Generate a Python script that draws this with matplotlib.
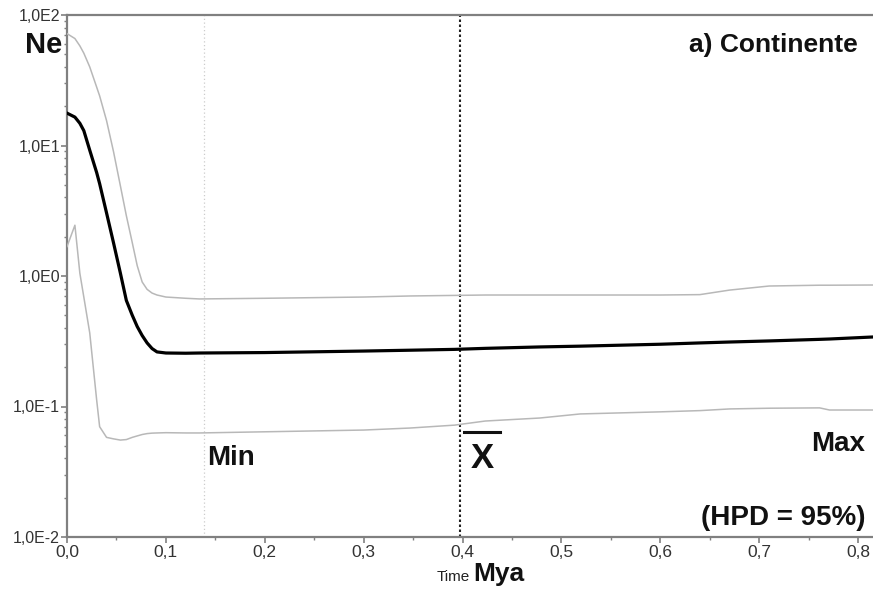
import numpy as np
import matplotlib
matplotlib.use("Agg")
import matplotlib.pyplot as plt
from matplotlib import font_manager
from matplotlib.lines import Line2D
from matplotlib.ticker import FixedLocator, FuncFormatter, LogLocator, NullFormatter

# ---- data ----
time_mya = [0.0, 0.008, 0.013, 0.017, 0.023, 0.03, 0.033, 0.04, 0.047, 0.054,
            0.06, 0.066, 0.071, 0.076, 0.081, 0.086, 0.091, 0.1, 0.12, 0.134,
            0.2, 0.3, 0.347, 0.392, 0.423, 0.478, 0.519, 0.6, 0.64, 0.67,
            0.71, 0.761, 0.771, 0.815]
ne_median = [17.7, 16.5, 14.8, 13.0, 9.2, 6.2, 5.1, 3.04, 1.8, 1.05,
             0.65, 0.5, 0.41, 0.35, 0.307, 0.278, 0.262, 0.257, 0.256, 0.257,
             0.259, 0.266, 0.27, 0.274, 0.279, 0.286, 0.29, 0.3, 0.307, 0.312,
             0.318, 0.327, 0.329, 0.341]
ne_upper = [72.0, 66.0, 58.0, 51.0, 40.0, 28.0, 24.0, 15.5, 9.0, 4.9,
            2.9, 1.8, 1.2, 0.9, 0.79, 0.74, 0.715, 0.69, 0.675, 0.667,
            0.675, 0.69, 0.703, 0.71, 0.715, 0.715, 0.715, 0.715, 0.72, 0.78,
            0.838, 0.85, 0.85, 0.853]
ne_lower = [1.68, 2.45, 1.05, 0.69, 0.366, 0.112, 0.07, 0.058, 0.0565, 0.0553,
            0.0558, 0.058, 0.0595, 0.061, 0.062, 0.0625, 0.0627, 0.063, 0.0627, 0.0627,
            0.064, 0.066, 0.0684, 0.072, 0.0774, 0.0816, 0.0877, 0.091, 0.093, 0.0958,
            0.097, 0.0976, 0.094, 0.094]
t_min = 0.139
t_mean = 0.397
x_ticks = [0.0, 0.1, 0.2, 0.3, 0.4, 0.5, 0.6, 0.7, 0.8]
x_tick_labels = ["0,0", "0,1", "0,2", "0,3", "0,4", "0,5", "0,6", "0,7", "0,8"]
y_ticks = [1e-2, 1e-1, 1e0, 1e1, 1e2]

# ---- fonts ----
avail = {f.name for f in font_manager.fontManager.ttflist}
narrow = "Liberation Sans Narrow" if "Liberation Sans Narrow" in avail else "Liberation Sans"
reg = "Liberation Sans" if "Liberation Sans" in avail else "DejaVu Sans"
plt.rcParams["font.family"] = [reg, "DejaVu Sans"]

fig = plt.figure(figsize=(8.73, 5.92), dpi=100)
ax = fig.add_axes([67 / 873, 1 - 537 / 592, 1 - 67 / 873, (537 - 15) / 592])

spine_c = "#808080"
ax.plot(time_mya, ne_upper, color="#b8b8b8", lw=1.1, zorder=3)
ax.plot(time_mya, ne_lower, color="#b8b8b8", lw=1.1, zorder=3)
ax.plot(time_mya, ne_median, color="black", lw=2.3, zorder=4)
ax.axvline(t_min, color="#cccccc", lw=0.9, ls=(0, (1, 2)), zorder=2)
ax.axvline(t_mean, color="#222222", lw=1.5, ls=(0, (1.2, 1.2)), zorder=2)

ax.set_yscale("log")
ax.set_xlim(0, 0.815)
ax.set_ylim(1e-2, 1e2)

ax.xaxis.set_major_locator(FixedLocator(x_ticks))
ax.set_xticklabels(x_tick_labels)
ax.xaxis.set_minor_locator(FixedLocator(np.arange(0.05, 0.82, 0.1)))
ax.yaxis.set_major_locator(FixedLocator(y_ticks))
ax.yaxis.set_major_formatter(FuncFormatter(lambda v, p: "1,0E%d" % int(round(np.log10(v)))))
ax.yaxis.set_minor_locator(LogLocator(base=10, subs=np.arange(2, 10)))
ax.yaxis.set_minor_formatter(NullFormatter())

for s in ["left", "bottom", "top"]:
    ax.spines[s].set_color(spine_c)
    ax.spines[s].set_linewidth(1.6)
ax.spines["right"].set_visible(False)
ax.tick_params(axis="both", which="major", colors=spine_c, length=4, width=1.2,
               labelcolor="#333333")
ax.tick_params(axis="x", which="major", labelsize=12.5, pad=2)
ax.tick_params(axis="y", which="major", labelsize=11.5, pad=1)
ax.tick_params(axis="both", which="minor", colors=spine_c, length=2.5, width=1.0)

# ---- texts ----
bold_fam = [narrow, "DejaVu Sans"]
fig.text(62 / 873, 1 - 45 / 592, "Ne", ha="right", va="center", fontsize=21,
         fontweight="bold", family=bold_fam, color="#111111")
fig.text(858 / 873, 1 - 45 / 592, "a) Continente", ha="right", va="center", fontsize=19,
         fontweight="bold", family=bold_fam, color="#111111")
ax.text(0.142, 0.040, "Min", ha="left", va="center", fontsize=20, fontweight="bold",
        family=bold_fam, color="#111111")
ax.text(0.420, 0.040, "X", ha="center", va="center", fontsize=25, fontweight="bold",
        color="#111111")
fig.add_artist(Line2D([464 / 873, 500 / 873], [1 - 432 / 592, 1 - 432 / 592],
                      color="#111111", lw=2.2))
ax.text(0.807, 0.052, "Max", ha="right", va="center", fontsize=20, fontweight="bold",
        family=bold_fam, color="#111111")
ax.text(0.807, 0.0140, "(HPD = 95%)", ha="right", va="center", fontsize=20, fontweight="bold",
        family=bold_fam, color="#111111")
fig.text(470 / 873, 1 - 581 / 592, "Time", ha="right", va="baseline", fontsize=11,
         color="#222222")
fig.text(473 / 873, 1 - 581 / 592, "Mya", ha="left", va="baseline", fontsize=19,
         fontweight="bold", family=bold_fam, color="#111111")

fig.savefig("out.png", dpi=100)
